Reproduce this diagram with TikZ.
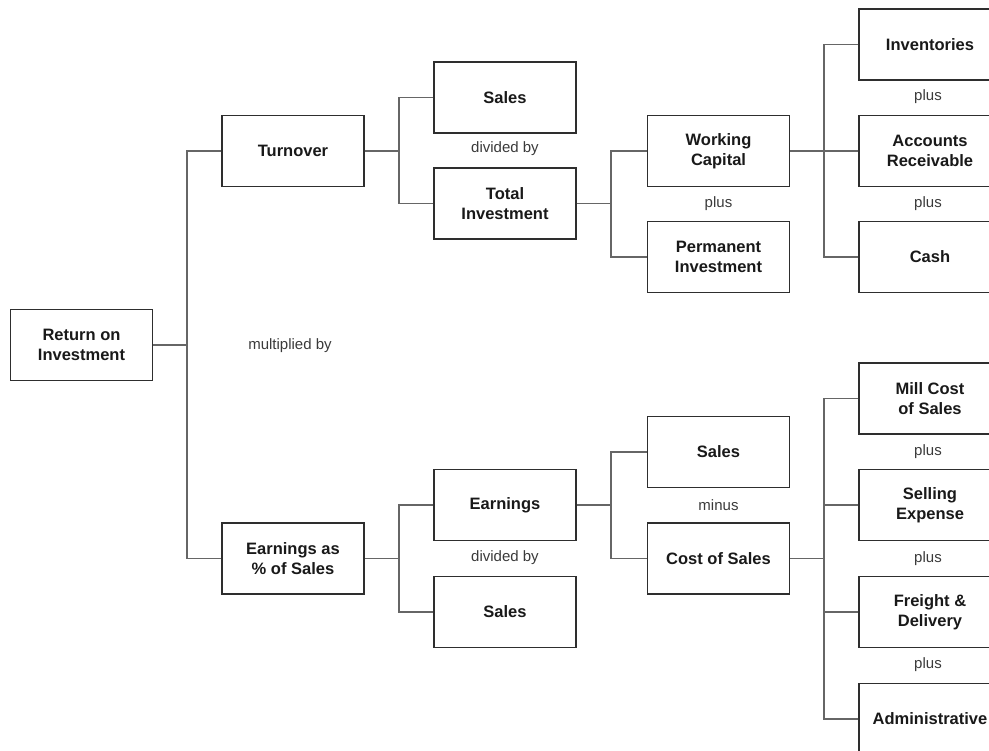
\documentclass[tikz,border=0pt]{standalone}
\usepackage{fontspec}
\setmainfont{Liberation Sans}
\definecolor{boxline}{HTML}{2E2E2E}
\definecolor{conn}{HTML}{666666}
\definecolor{lbl}{HTML}{3A3A3A}
\begin{document}
\begin{tikzpicture}[x=1pt,y=-1pt,
  box/.style={draw=boxline, line width=1.2pt, fill=white, minimum width=142pt, minimum height=71pt,
    inner sep=0pt, align=center, font=\fontsize{16.5}{20}\selectfont\bfseries, text=black!90},
  lab/.style={font=\fontsize{15}{18}\selectfont, text=lbl, inner sep=0pt},
  link/.style={draw=conn, line width=1.2pt}]
\useasboundingbox (0,0) rectangle (989,751);
\clip (0,0) rectangle (989,751);
% column 1
\node[box] (roi) at (81.5,345) {Return on\\Investment};
% column 2
\node[box] (turn) at (293,151) {Turnover};
\node[box] (eps) at (293,558.5) {Earnings as\\\% of Sales};
\node[lab] (mult) at (290,346) {multiplied by};
% column 3
\node[box] (sales1) at (505,97.5) {Sales};
\node[box] (totinv) at (505,203.5) {Total\\Investment};
\node[lab] (div1) at (505,149) {divided by};
\node[box] (earn) at (505,505) {Earnings};
\node[box] (sales2) at (505,612) {Sales};
\node[lab] (div2) at (505,558) {divided by};
% column 4
\node[box] (wc) at (718.5,151) {Working\\Capital};
\node[box] (pi) at (718.5,257) {Permanent\\Investment};
\node[lab] (plusA) at (718.5,203.5) {plus};
\node[box] (sales3) at (718.5,452) {Sales};
\node[box] (cos) at (718.5,558.5) {Cost of Sales};
\node[lab] (minus) at (718.5,505.5) {minus};
% column 5
\node[box] (inv) at (930,44.5) {Inventories};
\node[box] (ar) at (930,151) {Accounts\\Receivable};
\node[box] (cash) at (930,257) {Cash};
\node[lab] (plusB) at (928,97) {plus};
\node[lab] (plusC) at (928,203.5) {plus};
\node[box] (mill) at (930,398.5) {Mill Cost\\of Sales};
\node[box] (sell) at (930,505) {Selling\\Expense};
\node[box] (frt) at (930,612) {Freight \&\\Delivery};
\node[box] (adm) at (930,719) {Administrative};
\node[lab] (plusD) at (928,452) {plus};
\node[lab] (plusE) at (928,558.5) {plus};
\node[lab] (plusF) at (928,665) {plus};
% junctions
\coordinate (j1) at (187,345);
\coordinate (j2) at (399,151);
\coordinate (j3) at (399,558.5);
\coordinate (j4) at (611,203.5);
\coordinate (j5) at (611,505);
\coordinate (j6) at (824,151);
\coordinate (j7) at (824,558.5);
% connectors
\draw[link] (roi.east) -- (j1);
\draw[link] (turn.west) -| (j1);
\draw[link] (eps.west) -| (j1);
\draw[link] (turn.east) -- (j2);
\draw[link] (sales1.west) -| (j2);
\draw[link] (totinv.west) -| (j2);
\draw[link] (eps.east) -- (j3);
\draw[link] (earn.west) -| (j3);
\draw[link] (sales2.west) -| (j3);
\draw[link] (totinv.east) -- (j4);
\draw[link] (wc.west) -| (j4);
\draw[link] (pi.west) -| (j4);
\draw[link] (earn.east) -- (j5);
\draw[link] (sales3.west) -| (j5);
\draw[link] (cos.west) -| (j5);
\draw[link] (wc.east) -- (j6);
\draw[link] (inv.west) -| (j6);
\draw[link] (ar.west) -- (j6);
\draw[link] (cash.west) -| (j6);
\draw[link] (cos.east) -- (j7);
\draw[link] (mill.west) -| (j7);
\draw[link] (sell.west) -| (j7);
\draw[link] (frt.west) -| (j7);
\draw[link] (adm.west) -| (j7);
\end{tikzpicture}
\end{document}
